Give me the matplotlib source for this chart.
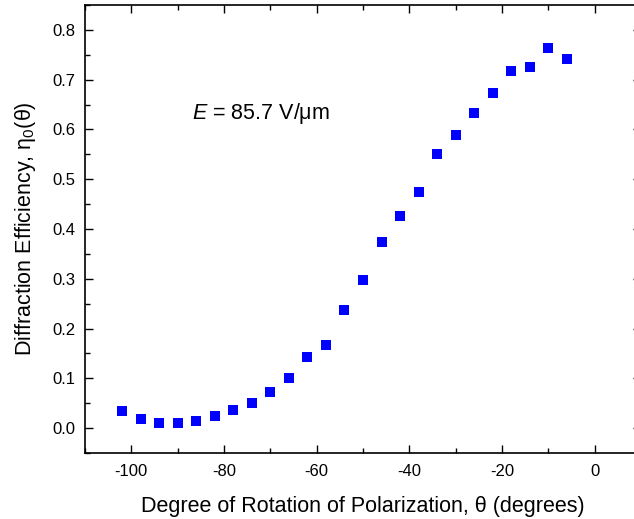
import numpy as np
import matplotlib
matplotlib.use('Agg')
import matplotlib.pyplot as plt

# rotation angle (degrees) and measured first-order efficiency
theta = [-102, -98, -94, -90, -86, -82, -78, -74, -70, -66, -62, -58, -54,
         -50, -46, -42, -38, -34, -30, -26, -22, -18, -14, -10, -6]
eta0 = [0.034, 0.019, 0.011, 0.010, 0.015, 0.024, 0.036, 0.051, 0.073,
        0.101, 0.142, 0.166, 0.238, 0.297, 0.373, 0.426, 0.475, 0.551,
        0.588, 0.634, 0.674, 0.717, 0.726, 0.764, 0.742]

xticks = [-100, -80, -60, -40, -20, 0]
yticks = [0.0, 0.1, 0.2, 0.3, 0.4, 0.5, 0.6, 0.7, 0.8]

plt.rcParams['font.family'] = ['Liberation Sans', 'DejaVu Sans']
plt.rcParams['mathtext.fontset'] = 'custom'
plt.rcParams['mathtext.rm'] = 'Liberation Sans'
plt.rcParams['mathtext.it'] = 'Liberation Sans:italic'
plt.rcParams['mathtext.default'] = 'regular'

W, H = 634, 519
fig = plt.figure(figsize=(W/100, H/100), dpi=100)
# right spine sits just past the crop edge, like the original
ax = fig.add_axes([85/W, (H-453)/H, 556/W, 448/H])

ax.plot(theta, eta0, 's', color='#0000ff', ms=6.5, mew=0)

ax.set_xlim(-110, 10)
ax.set_ylim(-0.05, 0.85)
ax.set_xticks(xticks)
ax.set_xticklabels(['%d' % t for t in xticks])
ax.set_xticks(np.arange(-110, 11, 10), minor=True)
ax.set_yticks(yticks)
ax.set_yticklabels(['%.1f' % t for t in yticks])
ax.set_yticks(np.arange(-0.05, 0.86, 0.05), minor=True)

ax.tick_params(which='both', direction='in', top=True, right=True,
               width=1.0, labelsize=12)
ax.tick_params(axis='x', pad=8)
ax.tick_params(axis='y', pad=7)
ax.tick_params(which='major', length=6)
ax.tick_params(which='minor', length=3.5)
for s in ax.spines.values():
    s.set_linewidth(1.2)

ax.set_xlabel('Degree of Rotation of Polarization, \u03b8 (degrees)',
              fontsize=15.5, labelpad=12)
ax.set_ylabel('Diffraction Efficiency, \u03b7$_0$(\u03b8)', fontsize=15.5,
              labelpad=10)

ax.text(-87, 0.632, '$\\it{E}$ = 85.7 V/\u03bcm', fontsize=15.5,
        va='center', ha='left')

fig.savefig('out.png', dpi=100)
